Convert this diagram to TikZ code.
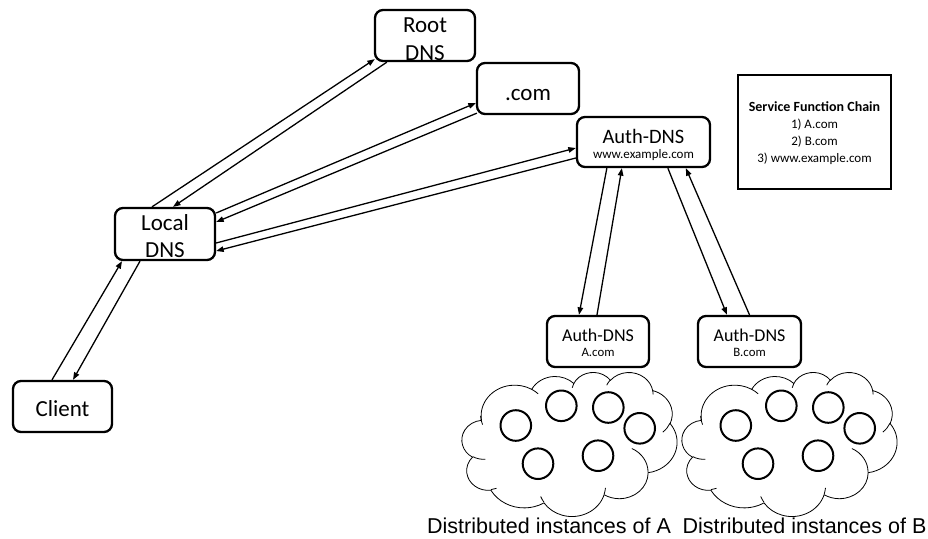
\documentclass[tikz,border=0pt]{standalone}
\usepackage{fontspec}
\setmainfont{Carlito}
\newfontfamily\captionfont{Liberation Sans}
\usetikzlibrary{arrows.meta}

% invisible strut that lowers the first text line inside a box
\newcommand{\topgap}[1]{\rule{0pt}{#1}}

\tikzset{
  dnsbox/.style={draw, line width=2.3pt, rounded corners=8pt, inner sep=0pt,
                 align=center, fill=white},
  bigtext/.style={font=\fontsize{23}{28}\selectfont},
  chainbox/.style={draw, line width=2.5pt, inner sep=0pt, align=center,
                   font=\fontsize{13}{16.7}\selectfont},
  flow/.style={line width=1.3pt, -{Triangle[length=7.5pt,width=5.5pt]}},
  instance/.style={line width=2pt},
  cloudline/.style={line width=0.8pt, fill=white},
  cloudfold/.style={line width=0.8pt},
  caption/.style={font=\captionfont\fontsize{21.5}{24}\selectfont, anchor=base, inner sep=0pt},
  % a cloud of six service instances, origin at its top left corner
  pics/instancecloud/.style={code={
    \begin{scope}[xscale=0.49769, yscale=-0.33333]
      \draw[cloudline] (39.00,143.70)
        arc[start angle=-187.75, delta angle=128.11, x radius=67.53, y radius=91.90]
        arc[start angle=-152.02, delta angle=106.58, x radius=53.33, y radius=72.67]
        arc[start angle=-153.50, delta angle=116.17, x radius=43.65, y radius=59.45]
        arc[start angle=-139.69, delta angle=129.48, x radius=48.57, y radius=65.95]
        arc[start angle=-74.77,  delta angle=97.98,  x radius=53.33, y radius=72.73]
        arc[start angle=-37.53,  delta angle=119.39, x radius=67.75, y radius=92.20]
        arc[start angle=0.46,    delta angle=121.52, x radius=57.85, y radius=78.67]
        arc[start angle=16.84,   delta angle=129.41, x radius=67.52, y radius=92.15]
        arc[start angle=58.98,   delta angle=91.22,  x radius=77.20, y radius=105.43]
        arc[start angle=-276.69, delta angle=139.79, x radius=43.60, y radius=59.18]
        arc[start angle=-239.64, delta angle=143.75, x radius=43.45, y radius=59.45]
        -- cycle;
      \draw[cloudfold]
        (46.93,261.77)  arc[start angle=85.54,   delta angle=34.82, x radius=43.45, y radius=59.45]
        (69.28,348.99)  arc[start angle=68.23,   delta angle=15.08, x radius=43.60, y radius=59.18]
        (164.78,390.90) arc[start angle=146.25,  delta angle=12.22, x radius=67.52, y radius=92.15]
        (288.27,347.51) arc[start angle=4.74,    delta angle=12.10, x radius=67.52, y radius=92.15]
        (341.29,229.54) arc[start angle=-64.03,  delta angle=64.49, x radius=57.85, y radius=78.67]
        (417.98,153.54) arc[start angle=23.21,   delta angle=26.42, x radius=53.33, y radius=72.73]
        (383.24,54.26)  arc[start angle=-10.21,  delta angle=11.03, x radius=48.57, y radius=65.95]
        (290.78,39.52)  arc[start angle=-156.27, delta angle=16.58, x radius=48.57, y radius=65.95]
        (221.41,47.20)  arc[start angle=-167.73, delta angle=14.23, x radius=43.65, y radius=59.45]
        (140.00,51.92)  arc[start angle=-59.64,  delta angle=13.92, x radius=67.53, y radius=91.90]
        (41.27,157.89)  arc[start angle=160.23,  delta angle=16.42, x radius=67.53, y radius=91.90];
    \end{scope}
    \foreach \cx/\cy in {53.8/53.5, 99.3/33.8, 146.3/35.5, 177.7/56.3, 76/91.7, 136/83.7}
      \draw[instance] (\cx,-\cy) circle[radius=15.3];
  }}
}

\begin{document}
\begin{tikzpicture}[x=1pt, y=1pt]
  \useasboundingbox (0,0) rectangle (928,-538);

  % server pools behind the two authoritative servers
  \pic (poolA) at (462,-372) {instancecloud};
  \pic (poolB) at (682,-372) {instancecloud};
  \node[caption] (capA) at (549,-533) {Distributed instances of A};
  \node[caption] (capB) at (804.5,-533) {Distributed instances of B};

  % DNS servers
  \node[dnsbox, bigtext, minimum width=100pt, minimum height=51pt] (root) at (425,-35.5)
    {\topgap{21.5pt}Root\\DNS};
  \node[dnsbox, bigtext, minimum width=102pt, minimum height=51pt, text height=23pt, text depth=0pt] (com) at (528,-88.5) {.com};
  \node[dnsbox, minimum width=133pt, minimum height=50pt, font=\fontsize{20.5}{15}\selectfont] (auth) at (643.5,-142)
    {\topgap{20pt}Auth-DNS\\{\fontsize{13}{15}\selectfont www.example.com}};
  \node[dnsbox, font=\fontsize{23}{27}\selectfont, minimum width=100pt, minimum height=52pt] (local) at (165,-234)
    {\topgap{20pt}Local\\DNS};
  \node[dnsbox, bigtext, minimum width=99pt, minimum height=51pt, text height=20pt, text depth=0pt] (client) at (62.5,-406.5) {Client};
  \node[dnsbox, minimum width=102pt, minimum height=51pt, font=\fontsize{18}{15}\selectfont] (authA) at (598,-341.5)
    {\topgap{16pt}Auth-DNS\\{\fontsize{12.8}{15}\selectfont A.com}};
  \node[dnsbox, minimum width=103pt, minimum height=51pt, font=\fontsize{18}{15}\selectfont] (authB) at (749.5,-341.5)
    {\topgap{16pt}Auth-DNS\\{\fontsize{12.8}{15}\selectfont B.com}};

  % chain description
  \node[chainbox, minimum width=153pt, minimum height=114pt] (sfc) at (814.5,-132)
    {\topgap{12pt}{\fontsize{14}{16.7}\selectfont\bfseries Service Function Chain}\\1) A.com\\2) B.com\\3) www.example.com};

  % query / response pairs
  \draw[flow] ([xshift=-10.5pt]client.north) -- ([xshift=-43pt]local.south);
  \draw[flow] ([xshift=-25pt]local.south) -- ([xshift=10.5pt]client.north);

  \draw[flow] ([xshift=-13pt]local.north) -- ([xshift=1pt,yshift=3pt]root.south west);
  \draw[flow] ([xshift=13pt]root.south west) -- ([xshift=8pt]local.north);

  \draw[flow] ([yshift=21pt]local.east) -- ([yshift=-14.5pt]com.west);
  \draw[flow] ([xshift=1pt,yshift=2pt]com.south west) -- ([yshift=12pt]local.east);

  \draw[flow] ([yshift=-9pt]local.east) -- ([yshift=-6pt]auth.west);
  \draw[flow] ([yshift=-16pt]auth.west) -- ([yshift=-17pt]local.east);

  \draw[flow] ([xshift=31pt]auth.south west) -- ([xshift=-19pt]authA.north);
  \draw[flow] ([xshift=-1pt]authA.north) -- ([xshift=46pt]auth.south west);

  \draw[flow] ([xshift=92pt]auth.south west) -- ([xshift=-22.5pt]authB.north);
  \draw[flow] (authB.north) -- ([xshift=110pt]auth.south west);
\end{tikzpicture}
\end{document}
